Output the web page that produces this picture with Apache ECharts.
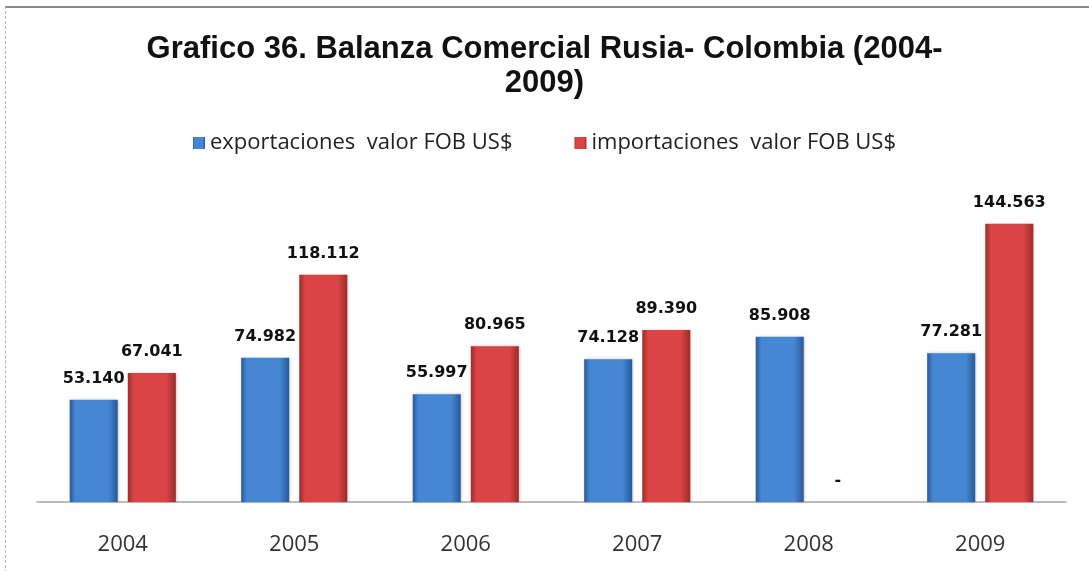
<!DOCTYPE html>
<html>
<head>
<meta charset="utf-8">
<script src="https://cdn.jsdelivr.net/npm/echarts@6/dist/echarts.min.js"></script>
<style>
  html, body { margin: 0; padding: 0; background: #fff; }
  #frame {
    position: absolute; left: 5px; top: 6px; width: 1090px; height: 570px;
    border-top: 2px solid #8a8a8a; border-left: 1px dashed #b5b5b5;
  }
  #chart { position: absolute; left: 0; top: 0; width: 1089px; height: 571px; }
</style>
</head>
<body>
<div id="frame"></div>
<div id="chart"></div>
<script>
// Balanza comercial Rusia - Colombia, valores FOB US$
const years = ['2004', '2005', '2006', '2007', '2008', '2009'];
const exportaciones = [53140, 74982, 55997, 74128, 85908, 77281];
const importaciones = [67041, 118112, 80965, 89390, 0, 144563];

const colors = {
  blueMid: '#4687d4',
  blueEdge: '#28589a',
  redMid: '#da4444',
  redEdge: '#9f2a2a',
  text: '#111',
  axis: '#a6a6a6'
};

function barGradient(edge, mid) {
  return new echarts.graphic.LinearGradient(0, 0, 1, 0, [
    { offset: 0, color: edge },
    { offset: 0.12, color: mid },
    { offset: 0.8, color: mid },
    { offset: 1, color: edge }
  ]);
}

// 53140 -> "53.140", 0 -> "-"
function fmtVal(v) {
  if (!v) return '-';
  return String(v).replace(/\B(?=(\d{3})+(?!\d))/g, '.');
}

const labelStyle = {
  show: true,
  position: 'top',
  distance: 13,
  color: colors.text,
  fontFamily: 'DejaVu Sans',
  fontWeight: 'bold',
  fontSize: 16,
  formatter: p => fmtVal(p.value)
};

const chart = echarts.init(document.getElementById('chart'));
chart.setOption({
  animation: false,
  title: {
    text: 'Grafico 36. Balanza Comercial Rusia- Colombia (2004-\n2009)',
    left: 'center',
    top: 27,
    textStyle: {
      fontFamily: 'Liberation Sans',
      fontWeight: 'bold',
      fontSize: 31,
      lineHeight: 34,
      color: '#111'
    }
  },
  legend: {
    top: 127,
    left: 'center',
    itemGap: 62,
    itemWidth: 12,
    itemHeight: 12,
    icon: 'rect',
    textStyle: { fontFamily: 'Open Sans', fontSize: 22, color: '#222' },
    data: ['exportaciones  valor FOB US$', 'importaciones  valor FOB US$']
  },
  grid: { left: 37, right: 23, top: 194, bottom: 69, containLabel: false },
  xAxis: {
    type: 'category',
    data: years,
    axisLine: { lineStyle: { color: colors.axis, width: 1.5 } },
    axisTick: { show: false },
    axisLabel: { color: '#333', fontFamily: 'Open Sans', fontSize: 22, margin: 32 }
  },
  yAxis: {
    type: 'value',
    min: 0,
    max: 160000,
    show: false,
    splitLine: { show: false }
  },
  series: [
    {
      name: 'exportaciones  valor FOB US$',
      type: 'bar',
      data: exportaciones,
      barWidth: '28%',
      barGap: '21%',
      itemStyle: {
        color: barGradient(colors.blueEdge, colors.blueMid),
        shadowColor: 'rgba(0,0,0,0.25)',
        shadowBlur: 3,
        shadowOffsetX: 1
      },
      label: labelStyle
    },
    {
      name: 'importaciones  valor FOB US$',
      type: 'bar',
      data: importaciones,
      barWidth: '28%',
      itemStyle: {
        color: barGradient(colors.redEdge, colors.redMid),
        shadowColor: 'rgba(0,0,0,0.25)',
        shadowBlur: 3,
        shadowOffsetX: 1
      },
      label: labelStyle
    }
  ]
});
</script>
</body>
</html>
